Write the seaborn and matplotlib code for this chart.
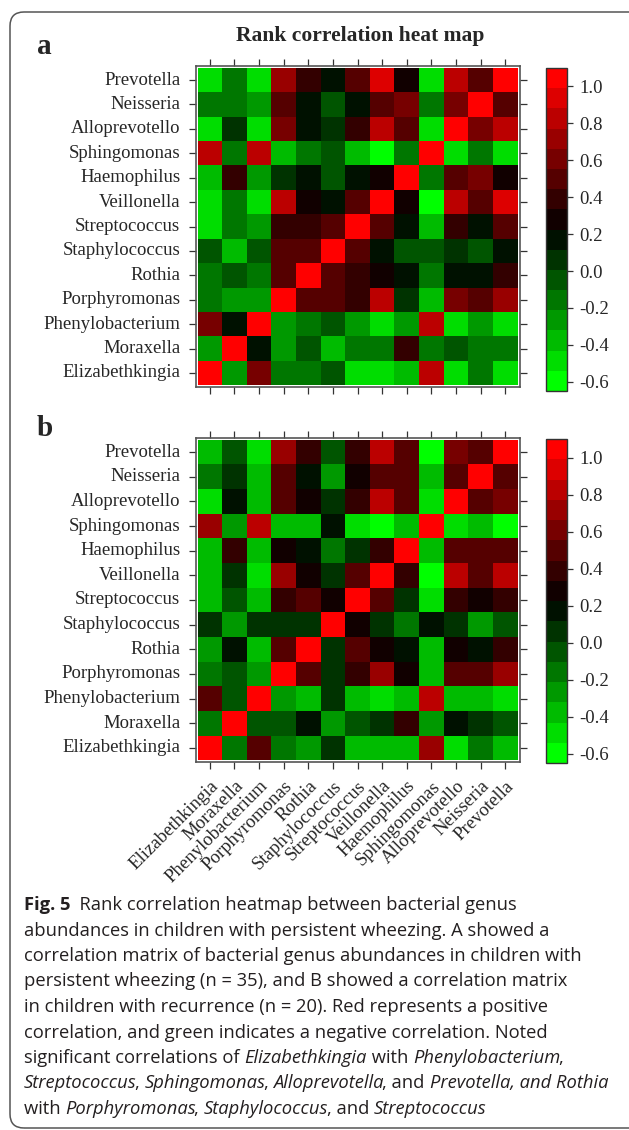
import numpy as np
import pandas as pd
import matplotlib
matplotlib.use("Agg")
import matplotlib.pyplot as plt
import seaborn as sns
from matplotlib.colors import ListedColormap
from matplotlib.patches import FancyBboxPatch
from matplotlib.transforms import IdentityTransform
from matplotlib.text import Annotation

# ---------------- data ----------------
col_genera = ["Elizabethkingia", "Moraxella", "Phenylobacterium", "Porphyromonas",
              "Rothia", "Staphylococcus", "Streptococcus", "Veillonella",
              "Haemophilus", "Sphingomonas", "Alloprevotello", "Neisseria", "Prevotella"]
row_genera = col_genera[::-1]

corr_a = [
    [-0.49, -0.16, -0.49, 0.72, 0.39, 0.17, 0.50, 0.94, 0.28, -0.49, 0.83, 0.50, 1.00],
    [-0.16, -0.16, -0.27, 0.50, 0.17, -0.05, 0.17, 0.50, 0.61, -0.16, 0.61, 1.00, 0.50],
    [-0.49, 0.06, -0.49, 0.61, 0.17, 0.06, 0.39, 0.83, 0.50, -0.49, 1.00, 0.61, 0.83],
    [0.83, -0.16, 0.83, -0.38, -0.16, -0.05, -0.38, -0.60, -0.16, 1.00, -0.49, -0.16, -0.49],
    [-0.38, 0.39, -0.27, 0.06, 0.17, -0.05, 0.17, 0.28, 1.00, -0.16, 0.50, 0.61, 0.28],
    [-0.49, -0.16, -0.49, 0.83, 0.28, 0.17, 0.50, 1.00, 0.28, -0.60, 0.83, 0.50, 0.94],
    [-0.49, -0.16, -0.27, 0.39, 0.39, 0.50, 1.00, 0.50, 0.17, -0.38, 0.39, 0.17, 0.50],
    [-0.05, -0.38, -0.05, 0.50, 0.50, 1.00, 0.50, 0.17, -0.05, -0.05, 0.06, -0.05, 0.17],
    [-0.16, -0.05, -0.16, 0.50, 1.00, 0.50, 0.39, 0.28, 0.17, -0.16, 0.17, 0.17, 0.39],
    [-0.16, -0.27, -0.27, 1.00, 0.50, 0.50, 0.39, 0.83, 0.06, -0.38, 0.61, 0.50, 0.72],
    [0.61, 0.17, 1.00, -0.27, -0.16, -0.05, -0.27, -0.49, -0.27, 0.83, -0.49, -0.27, -0.49],
    [-0.27, 1.00, 0.17, -0.27, -0.05, -0.38, -0.16, -0.16, 0.39, -0.16, -0.05, -0.16, -0.16],
    [1.00, -0.27, 0.61, -0.16, -0.16, -0.05, -0.49, -0.49, -0.38, 0.83, -0.49, -0.16, -0.49],
]

corr_b = [
    [-0.38, -0.05, -0.49, 0.72, 0.39, -0.05, 0.39, 0.83, 0.50, -0.60, 0.61, 0.50, 1.00],
    [-0.16, 0.06, -0.38, 0.50, 0.17, -0.27, 0.28, 0.50, 0.50, -0.38, 0.50, 1.00, 0.50],
    [-0.49, 0.17, -0.38, 0.50, 0.28, 0.06, 0.39, 0.83, 0.50, -0.49, 1.00, 0.50, 0.61],
    [0.72, -0.27, 0.83, -0.38, -0.38, 0.17, -0.49, -0.60, -0.38, 1.00, -0.49, -0.38, -0.60],
    [-0.38, 0.39, -0.38, 0.28, 0.17, -0.16, 0.06, 0.39, 1.00, -0.38, 0.50, 0.50, 0.50],
    [-0.38, 0.06, -0.49, 0.72, 0.28, 0.06, 0.50, 1.00, 0.39, -0.60, 0.83, 0.50, 0.83],
    [-0.38, -0.05, -0.38, 0.39, 0.50, 0.28, 1.00, 0.50, 0.06, -0.49, 0.39, 0.28, 0.39],
    [0.06, -0.27, 0.06, 0.06, 0.06, 1.00, 0.28, 0.06, -0.16, 0.17, 0.06, -0.27, -0.05],
    [-0.27, 0.17, -0.38, 0.50, 1.00, 0.06, 0.50, 0.28, 0.17, -0.38, 0.28, 0.17, 0.39],
    [-0.16, -0.05, -0.27, 1.00, 0.50, 0.06, 0.39, 0.72, 0.28, -0.38, 0.50, 0.50, 0.72],
    [0.50, -0.05, 1.00, -0.27, -0.38, 0.06, -0.38, -0.49, -0.38, 0.83, -0.38, -0.38, -0.49],
    [-0.16, 1.00, -0.05, -0.05, 0.17, -0.27, -0.05, 0.06, 0.39, -0.27, 0.17, 0.06, -0.05],
    [1.00, -0.16, 0.50, -0.16, -0.27, 0.06, -0.38, -0.38, -0.38, 0.72, -0.49, -0.16, -0.38],
]

cbar_ticks = [-0.6, -0.4, -0.2, 0.0, 0.2, 0.4, 0.6, 0.8, 1.0]
VMIN, VMAX = -0.65, 1.10

title = "Rank correlation heat map"
caption_lines = [
    [("Fig. 5", "normal", "bold"), ("  Rank correlation heatmap between bacterial genus", "normal", "normal")],
    [("abundances in children with persistent wheezing. A showed a", "normal", "normal")],
    [("correlation matrix of bacterial genus abundances in children with", "normal", "normal")],
    [("persistent wheezing (n = 35), and B showed a correlation matrix", "normal", "normal")],
    [("in children with recurrence (n = 20). Red represents a positive", "normal", "normal")],
    [("correlation, and green indicates a negative correlation. Noted", "normal", "normal")],
    [("significant correlations of ", "normal", "normal"), ("Elizabethkingia", "italic", "normal"),
     (" with ", "normal", "normal"), ("Phenylobacterium", "italic", "normal"), (",", "normal", "normal")],
    [("Streptococcus", "italic", "normal"), (", ", "normal", "normal"), ("Sphingomonas", "italic", "normal"),
     (", ", "normal", "normal"), ("Alloprevotella", "italic", "normal"), (", and ", "normal", "normal"),
     ("Prevotella, and Rothia", "italic", "normal")],
    [("with ", "normal", "normal"), ("Porphyromonas", "italic", "normal"), (", ", "normal", "normal"),
     ("Staphylococcus", "italic", "normal"), (", and ", "normal", "normal"), ("Streptococcus", "italic", "normal")],
]

# ---------------- style ----------------
sns.set_style("white")
plt.rcParams["axes.unicode_minus"] = False
SERIF = ["Liberation Serif", "DejaVu Serif"]
CAP_FONT = ["Open Sans", "DejaVu Sans"]
plt.rcParams["font.family"] = SERIF

W, H = 629, 1130
fig = plt.figure(figsize=(W / 100, H / 100), dpi=100)


def rect(x0, y0, x1, y1):
    return [x0 / W, 1 - y1 / H, (x1 - x0) / W, (y1 - y0) / H]


# green -> black -> red palette with 16 levels
n_lev = 16
cols = []
for k in range(n_lev):
    t = 2 * k / (n_lev - 1)
    if t <= 1:
        cols.append((0.0, 1 - t, 0.0))
    else:
        cols.append((t - 1, 0.0, 0.0))
cmap = ListedColormap(cols)

FRAME = "#555555"


def panel(data, cell_box, cbar_box, show_x):
    x0, y0, x1, y1 = cell_box
    cw = (x1 - x0) / 13
    ch = (y1 - y0) / 13
    gap = 2.0
    ax = fig.add_axes(rect(x0 - gap, y0 - gap, x1 + gap, y1 + gap))
    cax = fig.add_axes(rect(*cbar_box))
    df = pd.DataFrame(data, index=row_genera, columns=col_genera)
    sns.heatmap(df, ax=ax, cmap=cmap, vmin=VMIN, vmax=VMAX, cbar_ax=cax,
                xticklabels=col_genera, yticklabels=row_genera, linewidths=0)
    ax.set_xlim(-gap / cw, 13 + gap / cw)
    ax.set_ylim(13 + gap / ch, -gap / ch)
    for sp in ax.spines.values():
        sp.set_visible(True)
        sp.set_color(FRAME)
        sp.set_linewidth(1.2)
    ax.tick_params(axis="both", which="both", direction="out", length=5, width=0.9,
                   color="#333333", top=True, bottom=True, left=True, right=True,
                   labeltop=False, labelright=False, pad=6)
    ax.set_yticklabels(row_genera, rotation=0, fontsize=13.5, family=SERIF)
    if show_x:
        ax.set_xticklabels(col_genera, rotation=45, ha="right", rotation_mode="anchor",
                           fontsize=13.5, family=SERIF)
    else:
        ax.tick_params(axis="x", labelbottom=False)
    ax.set_xlabel("")
    ax.set_ylabel("")
    cb = ax.collections[0].colorbar
    cb.set_ticks(cbar_ticks)
    cb.set_ticklabels([f"{v:.1f}" for v in cbar_ticks])
    cb.outline.set_linewidth(1.0)
    cb.outline.set_edgecolor("#333333")
    cax.tick_params(direction="out", length=4, width=0.9, color="#333333", pad=5,
                    labelsize=13.5, right=True, left=False)
    for lab in cax.get_yticklabels():
        lab.set_family(SERIF)
    return ax


panel(corr_a, (197.5, 67.8, 517.5, 385.2), (546, 68, 567, 391), False)
panel(corr_b, (197.5, 439.7, 517.5, 760.3), (546, 439, 567, 763), True)

# title and panel letters
fig.text(360 / W, 1 - 36 / H, title, ha="center", va="center", fontsize=15.5,
         fontweight="bold", family=SERIF)
fig.text(37 / W, 1 - 47 / H, "a", ha="left", va="center", fontsize=21, fontweight="bold", family=SERIF)
fig.text(37 / W, 1 - 428 / H, "b", ha="left", va="center", fontsize=21, fontweight="bold", family=SERIF)

# border
border = FancyBboxPatch((10, H - 1128), 660, 1116, boxstyle="round,pad=0,rounding_size=14",
                        transform=IdentityTransform(), facecolor="none", edgecolor="#555555",
                        linewidth=1.1)
fig.patches.append(border)

# caption: chained text pieces (each placed at the right edge of the previous one)
CAP_SIZE = 13.2
x_start = 24
top0 = 896
lead = 25.5
for i, line in enumerate(caption_lines):
    yb = top0 + i * lead
    last = None
    last_style = None
    for s, style, weight in line:
        kw = dict(fontsize=CAP_SIZE, family=CAP_FONT, style=style, weight=weight,
                  ha="left", va="bottom", color="#231f20")
        if last is None:
            last = fig.text(x_start / W, 1 - (yb + 18) / H, s, **kw)
        else:
            dx = -1.5 if (last_style == "italic" and s.startswith(",")) else 0
            ann = Annotation(s, xy=(1, 0), xycoords=last, xytext=(dx, 0),
                             textcoords="offset pixels", **kw)
            last = fig.add_artist(ann)
        last_style = style

fig.savefig("out.png", dpi=100)
